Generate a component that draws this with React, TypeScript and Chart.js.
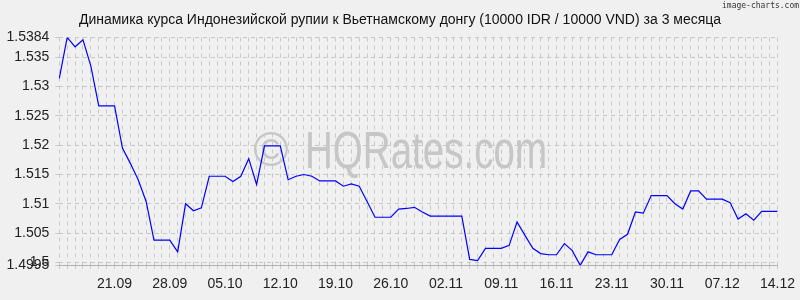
import React, { useEffect, useRef } from "react";
import { Chart, registerables } from "chart.js";

Chart.register(...registerables);

const chartTitle =
  "Динамика курса Индонезийской рупии к Вьетнамскому донгу (10000 IDR / 10000 VND) за 3 месяца";
const watermarkSymbol = "©";
const watermarkText = "HQRates.com";
const creditText = "image-charts.com";

const dates = [
  "14.09", "15.09", "16.09", "17.09", "18.09", "19.09", "20.09", "21.09", "22.09", "23.09",
  "24.09", "25.09", "26.09", "27.09", "28.09", "29.09", "30.09",
  "01.10", "02.10", "03.10", "04.10", "05.10", "06.10", "07.10", "08.10", "09.10", "10.10",
  "11.10", "12.10", "13.10", "14.10", "15.10", "16.10", "17.10", "18.10", "19.10", "20.10",
  "21.10", "22.10", "23.10", "24.10", "25.10", "26.10", "27.10", "28.10", "29.10", "30.10", "31.10",
  "01.11", "02.11", "03.11", "04.11", "05.11", "06.11", "07.11", "08.11", "09.11", "10.11",
  "11.11", "12.11", "13.11", "14.11", "15.11", "16.11", "17.11", "18.11", "19.11", "20.11",
  "21.11", "22.11", "23.11", "24.11", "25.11", "26.11", "27.11", "28.11", "29.11", "30.11",
  "01.12", "02.12", "03.12", "04.12", "05.12", "06.12", "07.12", "08.12", "09.12", "10.12",
  "11.12", "12.12", "13.12", "14.12",
];

const rates = [
  1.5314, 1.5384, 1.5368, 1.538, 1.5335, 1.5267, 1.5267, 1.5267, 1.5195, 1.5169,
  1.5141, 1.5104, 1.5038, 1.5038, 1.5038, 1.5018, 1.51, 1.5088, 1.5093, 1.5147,
  1.5147, 1.5147, 1.5138, 1.5147, 1.5177, 1.5133, 1.5199, 1.5199, 1.5199, 1.5141,
  1.5147, 1.515, 1.5147, 1.5139, 1.5139, 1.5139, 1.513, 1.5134, 1.513, 1.5104,
  1.5077, 1.5077, 1.5077, 1.5091, 1.5092, 1.5094, 1.5086, 1.5079, 1.5079, 1.5079,
  1.5079, 1.5079, 1.5005, 1.5003, 1.5024, 1.5024, 1.5024, 1.5029, 1.5069, 1.5046,
  1.5024, 1.5015, 1.5013, 1.5013, 1.5032, 1.502, 1.4995, 1.5018, 1.5013, 1.5013,
  1.5013, 1.5039, 1.5048, 1.5086, 1.5084, 1.5114, 1.5114, 1.5114, 1.51, 1.5091,
  1.5122, 1.5122, 1.5108, 1.5108, 1.5108, 1.5102, 1.5074, 1.5083, 1.5072, 1.5087,
  1.5087, 1.5087,
];

const shownDates = [
  "21.09", "28.09", "05.10", "12.10", "19.10", "26.10", "02.11",
  "09.11", "16.11", "23.11", "30.11", "07.12", "14.12",
];

const yTicks = [1.4995, 1.5, 1.505, 1.51, 1.515, 1.52, 1.525, 1.53, 1.535, 1.5384];
const yMin = 1.4995;
const yMax = 1.5384;

const FONT = '"Liberation Sans", Arial, sans-serif';

export default function App() {
  const ref = useRef<HTMLCanvasElement>(null);

  useEffect(() => {
    if (!ref.current) return;

    const deco = {
      id: "deco",
      beforeDraw(chart: any) {
        const ctx = chart.ctx as CanvasRenderingContext2D;
        ctx.save();
        ctx.fillStyle = "#f0f0f0";
        ctx.fillRect(0, 0, chart.width, chart.height);
        ctx.fillStyle = "#c6c6c6";
        ctx.textBaseline = "alphabetic";
        ctx.textAlign = "center";
        ctx.font = `48px ${FONT}`;
        ctx.fillText(watermarkSymbol, 271, 166);
        ctx.font = `51px ${FONT}`;
        const w = ctx.measureText(watermarkText).width;
        ctx.translate(305, 168);
        ctx.scale(242 / w, 1);
        ctx.textAlign = "left";
        ctx.fillText(watermarkText, 0, 0);
        ctx.restore();
      },
      afterDraw(chart: any) {
        const ctx = chart.ctx as CanvasRenderingContext2D;
        ctx.save();
        ctx.fillStyle = "#111";
        ctx.font = `14px ${FONT}`;
        ctx.textAlign = "center";
        ctx.textBaseline = "alphabetic";
        ctx.fillText(chartTitle, 400, 23.5);
        ctx.font = `9px "DejaVu Sans Mono", monospace`;
        const w = ctx.measureText(creditText).width;
        ctx.translate(722, 7.5);
        ctx.scale(77 / w, 1);
        ctx.textAlign = "left";
        ctx.fillStyle = "#333";
        ctx.fillText(creditText, 0, 0);
        ctx.restore();
      },
    };

    const chart = new Chart(ref.current, {
      type: "line",
      data: {
        labels: dates,
        datasets: [
          {
            data: rates,
            borderColor: "#0000ff",
            borderWidth: 1.2,
            pointRadius: 0,
            tension: 0,
            fill: false,
          },
        ],
      },
      options: {
        animation: false,
        responsive: false,
        layout: { padding: { left: 0, right: 21.8, top: 37.4, bottom: 0 } },
        plugins: {
          legend: { display: false },
          tooltip: { enabled: false },
          title: { display: false },
        },
        scales: {
          x: {
            type: "category",
            offset: false,
            grid: {
              color: "#c8c8c8",
              lineWidth: 1,
              tickLength: 5,
              tickColor: "#c8c8c8",
              tickBorderDash: [3, 3],
            },
            border: { display: true, color: "#b0b0b0", dash: [4, 4] },
            ticks: {
              autoSkip: false,
              maxRotation: 0,
              minRotation: 0,
              padding: 5,
              color: "#222",
              font: { family: FONT, size: 14 },
              callback: (_v: any, i: number) =>
                shownDates.includes(dates[i]) ? dates[i] : "",
            },
            afterFit: (s: any) => {
              s.height = 34.7;
            },
          },
          y: {
            type: "linear",
            min: yMin,
            max: yMax,
            afterBuildTicks: (s: any) => {
              s.ticks = yTicks.map((v) => ({ value: v }));
            },
            grid: {
              color: "#c8c8c8",
              lineWidth: 1,
              tickLength: 4,
              tickColor: "#c8c8c8",
            },
            border: { display: false, dash: [4, 4] },
            ticks: {
              autoSkip: false,
              padding: 6,
              color: "#222",
              font: { family: FONT, size: 14 },
              callback: (v: any) => String(v),
            },
            afterFit: (s: any) => {
              s.width = 59.3;
            },
          },
        },
      },
      plugins: [deco],
    });

    return () => chart.destroy();
  }, []);

  return (
    <div
      style={{
        position: "absolute",
        left: 0,
        top: 0,
        width: 800,
        height: 300,
        background: "#f0f0f0",
      }}
    >
      <canvas
        ref={ref}
        width={800}
        height={300}
        style={{ display: "block", width: 800, height: 300 }}
      />
    </div>
  );
}
